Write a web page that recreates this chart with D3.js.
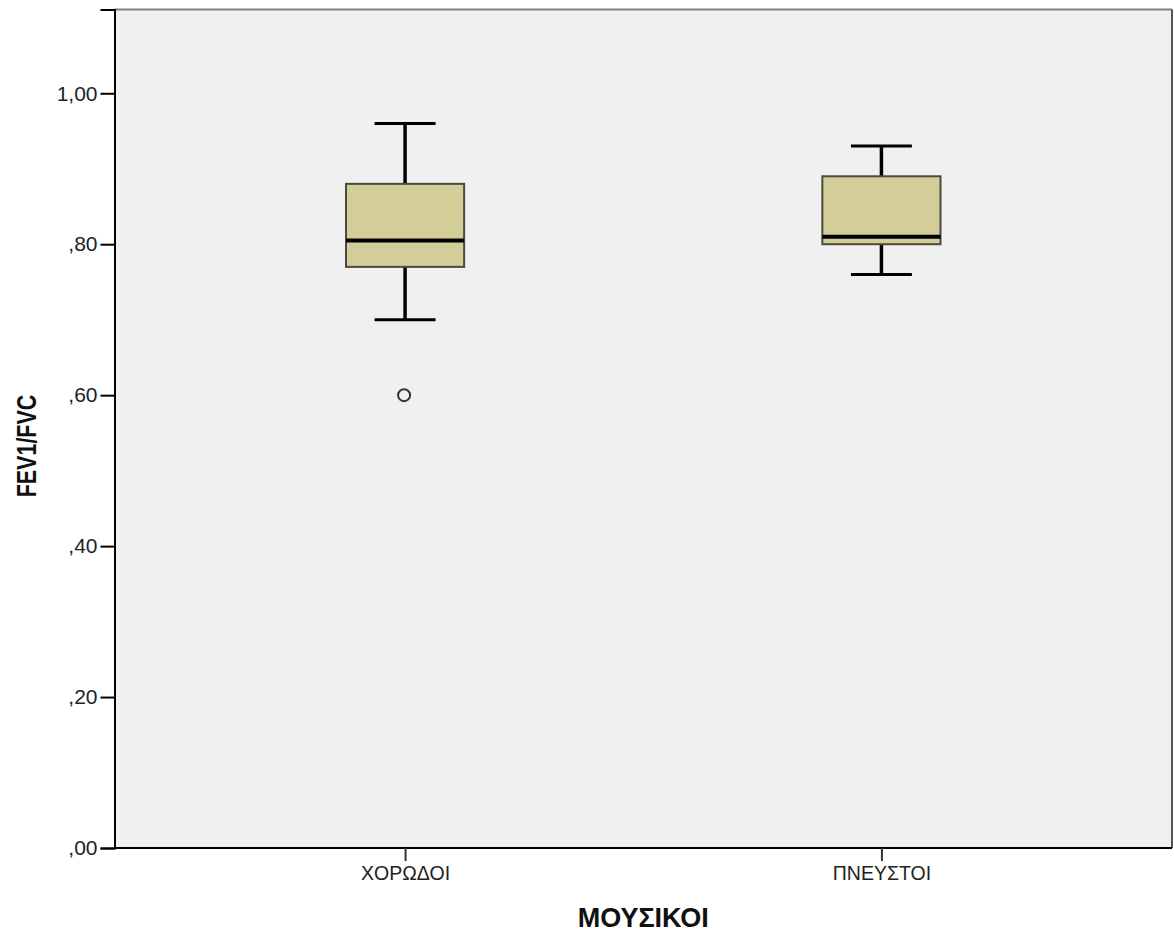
<!DOCTYPE html>
<html>
<head>
<meta charset="utf-8">
<script src="https://cdn.jsdelivr.net/npm/d3@7/dist/d3.min.js"></script>
<style>
  html, body { margin: 0; padding: 0; background: #ffffff; }
  svg { display: block; font-family: "Liberation Sans", Arial, sans-serif; }
</style>
</head>
<body>
<svg id="chart" width="1174" height="936"></svg>
<script>
// Groups of musicians and their FEV1/FVC summary statistics
const categories = ["ΧΟΡΩΔΟΙ", "ΠΝΕΥΣΤΟΙ"];
const whiskerLow  = [0.70, 0.76];
const q1          = [0.77, 0.80];
const median      = [0.805, 0.81];
const q3          = [0.88, 0.89];
const whiskerHigh = [0.96, 0.93];
// Outliers: [group index, value]
const outliers = [[0, 0.60]];
const yTicks = [0, 0.2, 0.4, 0.6, 0.8, 1.0];
const yTickLabels = [",00", ",20", ",40", ",60", ",80", "1,00"];
const xTitle = "ΜΟΥΣΙΚΟΙ";
const yTitle = "FEV1/FVC";

const svg = d3.select("#chart");
const margin = { left: 114.5, right: 2, top: 9.5, bottom: 88 };
const W = 1174, H = 936;
const x0 = margin.left, x1 = W - margin.right;
const y0 = H - margin.bottom, y1 = margin.top;

const x = d3.scalePoint().domain(categories).range([x0, x1]).padding(0.61);
const y = d3.scaleLinear().domain([0, 1.111]).range([y0, y1]);

// Plot background
svg.append("rect")
  .attr("x", x0).attr("y", y1)
  .attr("width", x1 - x0).attr("height", y0 - y1)
  .attr("fill", "#f0f0f0");

// Frame: top and right edges
svg.append("line").attr("x1", x0).attr("x2", x1).attr("y1", y1).attr("y2", y1)
  .attr("stroke", "#808080").attr("stroke-width", 2);
svg.append("line").attr("x1", x1).attr("x2", x1).attr("y1", y1).attr("y2", y0)
  .attr("stroke", "#555555").attr("stroke-width", 2);

// Y axis
const yAxis = d3.axisLeft(y)
  .tickValues(yTicks)
  .tickFormat((d, i) => yTickLabels[i])
  .tickSize(14)
  .tickPadding(3);
const gy = svg.append("g").attr("transform", `translate(${x0},0)`).call(yAxis);
gy.select(".domain").attr("stroke", "#000").attr("stroke-width", 2);
gy.selectAll(".tick line").attr("stroke", "#000").attr("stroke-width", 2);
gy.selectAll(".tick text").attr("fill", "#222").style("font-size", "21px")
  .style("font-family", "'Liberation Sans', Arial, sans-serif");

// X axis
const xAxis = d3.axisBottom(x).tickSize(13).tickPadding(5).tickSizeOuter(0);
const gx = svg.append("g").attr("transform", `translate(0,${y0})`).call(xAxis);
gx.select(".domain").attr("stroke", "#000").attr("stroke-width", 2)
  .attr("d", `M${x0},0H${x1}`);
gx.selectAll(".tick line").attr("stroke", "#333").attr("stroke-width", 2);
gx.selectAll(".tick text").attr("fill", "#222").style("font-size", "19.5px")
  .style("font-family", "'Liberation Sans', Arial, sans-serif");

// Box plots
const step = x.step();
const boxW = step * 0.248;
const capW = step * 0.128;
const g = svg.append("g");
categories.forEach((c, i) => {
  const cx = x(c);
  // whiskers
  g.append("line").attr("x1", cx).attr("x2", cx)
    .attr("y1", y(whiskerHigh[i])).attr("y2", y(q3[i]))
    .attr("stroke", "#000").attr("stroke-width", 3.5);
  g.append("line").attr("x1", cx).attr("x2", cx)
    .attr("y1", y(q1[i])).attr("y2", y(whiskerLow[i]))
    .attr("stroke", "#000").attr("stroke-width", 3.5);
  g.append("line").attr("x1", cx - capW / 2).attr("x2", cx + capW / 2)
    .attr("y1", y(whiskerHigh[i])).attr("y2", y(whiskerHigh[i]))
    .attr("stroke", "#000").attr("stroke-width", 3);
  g.append("line").attr("x1", cx - capW / 2).attr("x2", cx + capW / 2)
    .attr("y1", y(whiskerLow[i])).attr("y2", y(whiskerLow[i]))
    .attr("stroke", "#000").attr("stroke-width", 3);
  // box
  g.append("rect")
    .attr("x", cx - boxW / 2).attr("y", y(q3[i]))
    .attr("width", boxW).attr("height", y(q1[i]) - y(q3[i]))
    .attr("fill", "#d3ce98").attr("stroke", "#4a4a40").attr("stroke-width", 2);
  // median
  g.append("line").attr("x1", cx - boxW / 2).attr("x2", cx + boxW / 2)
    .attr("y1", y(median[i])).attr("y2", y(median[i]))
    .attr("stroke", "#000").attr("stroke-width", 4);
});

// Outliers
g.selectAll("circle.out").data(outliers).join("circle")
  .attr("class", "out")
  .attr("cx", d => x(categories[d[0]]) - 1)
  .attr("cy", d => y(d[1]))
  .attr("r", 6)
  .attr("fill", "none").attr("stroke", "#333").attr("stroke-width", 2);

// Axis titles
svg.append("text")
  .attr("x", (x0 + x1) / 2).attr("y", 927)
  .attr("text-anchor", "middle")
  .style("font-size", "27px").style("font-weight", "bold").attr("fill", "#111")
  .text(xTitle);
svg.append("text")
  .attr("transform", `translate(26,446) rotate(-90) scale(1,1.3)`)
  .attr("text-anchor", "middle")
  .attr("dy", "0.36em")
  .style("font-size", "21.5px").style("font-weight", "bold").attr("fill", "#111")
  .text(yTitle);
</script>
</body>
</html>
